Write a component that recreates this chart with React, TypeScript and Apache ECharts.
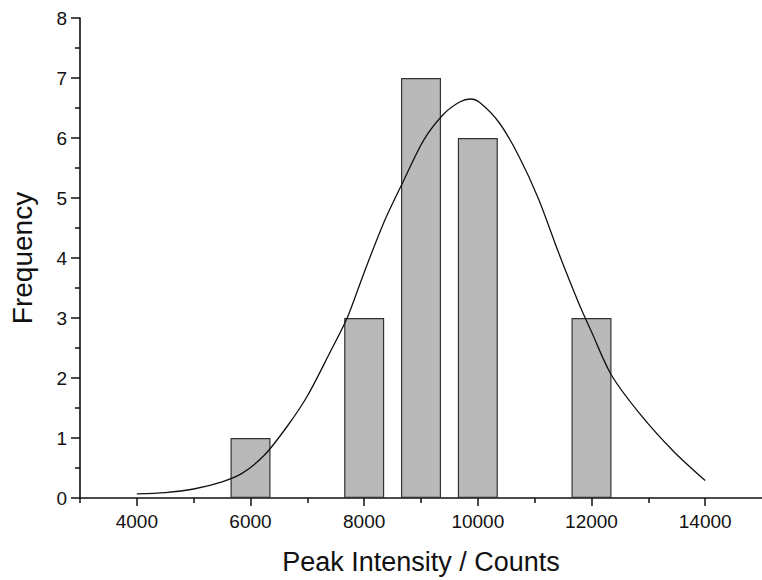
import React, { useEffect, useRef } from "react";
import * as echarts from "echarts";

const binCenters = [6000, 8000, 9000, 10000, 12000];
const frequencies = [1, 3, 7, 6, 3];

const curveX = [4000, 4500, 5000, 5500, 5850, 6250, 6650, 7000, 7400, 7700, 8000, 8350, 8700, 9050, 9400, 9680, 9870, 10050, 10380, 10720, 11070, 11420, 11770, 12000, 12350, 12870, 13450, 14000];
const curveY = [0.07, 0.09, 0.15, 0.27, 0.41, 0.72, 1.2, 1.7, 2.43, 3.0, 3.76, 4.6, 5.3, 5.97, 6.4, 6.6, 6.65, 6.58, 6.25, 5.7, 4.98, 4.09, 3.26, 2.77, 2.05, 1.38, 0.77, 0.29];

const majorXTicks = [4000, 6000, 8000, 10000, 12000, 14000];
const minorXTicks = [3000, 5000, 7000, 9000, 11000, 13000];

const FONT = "Liberation Sans, Arial, sans-serif";

export default function App() {
  const ref = useRef<HTMLDivElement>(null);
  useEffect(() => {
    if (!ref.current) return;
    const chart = echarts.init(ref.current, null, { renderer: "svg" });
    const axisColor = "#111";
    chart.setOption({
      animation: false,
      backgroundColor: "#ffffff",
      grid: { left: 75, right: 0, top: 18, bottom: 80, containLabel: false },
      xAxis: [
        {
          type: "value",
          min: 3000,
          max: 15000,
          position: "bottom",
          axisLine: { show: true, lineStyle: { color: axisColor, width: 1.6 } },
          axisTick: { show: true, length: 8, inside: false, customValues: majorXTicks, lineStyle: { color: axisColor, width: 1.5 } },
          axisLabel: { show: true, customValues: majorXTicks, formatter: (v: number) => String(v), color: "#111", fontSize: 19, fontFamily: FONT, margin: 14 },
          splitLine: { show: false },
          name: "Peak Intensity / Counts",
          nameLocation: "middle",
          nameGap: 50,
          nameTextStyle: { color: "#111", fontSize: 27, fontFamily: FONT },
        },
        {
          type: "value",
          min: 3000,
          max: 15000,
          position: "bottom",
          axisLine: { show: false },
          axisTick: { show: true, length: 5, inside: false, customValues: minorXTicks, lineStyle: { color: axisColor, width: 1.5 } },
          axisLabel: { show: false },
          splitLine: { show: false },
        },
      ],
      yAxis: {
        type: "value",
        min: 0,
        max: 8,
        interval: 1,
        axisLine: { show: true, lineStyle: { color: axisColor, width: 1.6 } },
        axisTick: { show: true, inside: false, length: 9, lineStyle: { color: axisColor, width: 1.5 } },
        minorTick: { show: true, splitNumber: 2, length: 5, lineStyle: { color: axisColor, width: 1.5 } },
        axisLabel: { color: "#111", fontSize: 19, fontFamily: FONT, margin: 13 },
        splitLine: { show: false },
        name: "Frequency",
        nameLocation: "middle",
        nameGap: 44,
        nameRotate: 90,
        nameTextStyle: { color: "#111", fontSize: 28, fontFamily: FONT },
      },
      series: [
        {
          type: "bar",
          xAxisIndex: 0,
          data: binCenters.map((x, i) => [x, frequencies[i]]),
          barWidth: 40,
          itemStyle: { color: "#b9b9b9", borderColor: "#333", borderWidth: 1.2 },
          z: 2,
        },
        {
          type: "line",
          xAxisIndex: 0,
          data: curveX.map((x, i) => [x, curveY[i]]),
          smooth: 0.3,
          showSymbol: false,
          lineStyle: { color: "#111", width: 1.3 },
          z: 3,
        },
      ],
    });
    return () => chart.dispose();
  }, []);
  return <div ref={ref} style={{ position: "absolute", left: 0, top: 0, width: 762, height: 580 }} />;
}
